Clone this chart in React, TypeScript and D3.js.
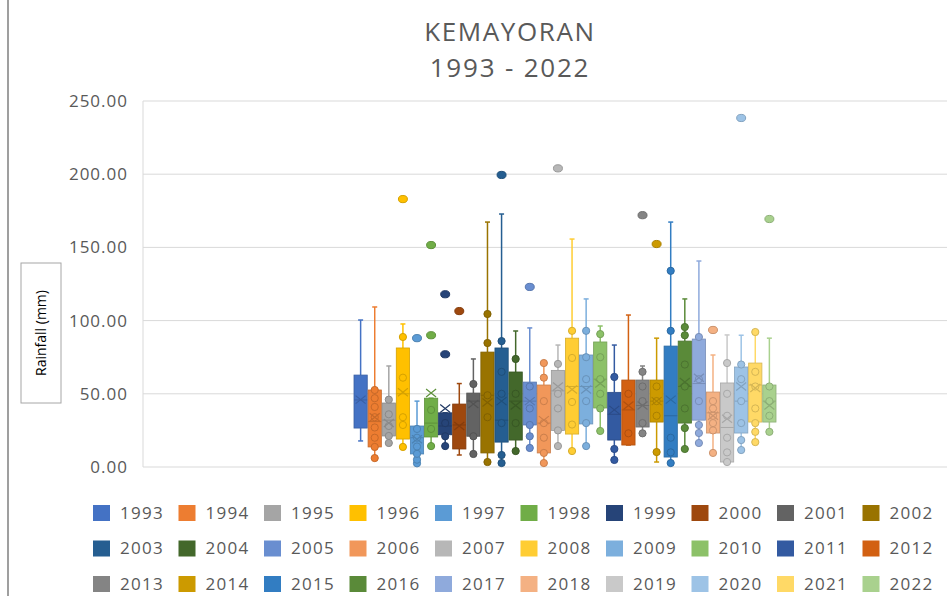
import React from 'react';
import { scaleLinear, scaleBand, color as d3color } from 'd3';

const years = ['1993', '1994', '1995', '1996', '1997', '1998', '1999', '2000', '2001', '2002',
    '2003', '2004', '2005', '2006', '2007', '2008', '2009', '2010', '2011', '2012',
    '2013', '2014', '2015', '2016', '2017', '2018', '2019', '2020', '2021', '2022'];

const colors = ['#4472C4', '#ED7D31', '#A5A5A5', '#FFC000', '#5B9BD5', '#70AD47',
    '#264478', '#9E480E', '#636363', '#997300', '#255E91', '#43682B',
    '#698ED0', '#F1975A', '#B7B7B7', '#FFCD33', '#7CAFDD', '#8CC168',
    '#335AA1', '#D26012', '#848484', '#CC9A00', '#327DC2', '#5A8A39',
    '#8FAADC', '#F4B183', '#C9C9C9', '#9DC3E6', '#FFD966', '#A9D18E'];

const whiskerLo = [17.8, 6.1, 16.4, 13.7, 2.5, 14.3, 14.3, 8.2, 8.9, 3.4, 2.7, 10.5, 13, 2.7, 14.3,
    10.9, 14.3, 24.6, 4.8, 15, 23, 3.4, 2.7, 12.3, 16.4, 9.6, 3.4, 11.6, 17, 24];
const q1 = [26.6, 13.7, 21.2, 19.1, 8.9, 20.5, 22, 12.3, 21, 9.6, 17, 18.4, 28.7, 9.6, 25,
    22.5, 29.4, 40.3, 18.4, 15, 27.3, 30.7, 6.8, 30, 32, 23.2, 3.4, 23.2, 30.7, 30.7];
const median = [45.8, 31, 32, 50, 20, 30, 28, 28.7, 45, 49, 32, 45, 45, 30, 52,
    55, 55, 60, 36, 39, 42, 45, 35, 55, 57, 37, 27, 45, 56, 45];
const q3 = [62.8, 52.6, 43.7, 81.3, 28, 47, 37, 43, 50.5, 78.5, 81.3, 64.9, 58, 56, 66,
    88, 76.5, 85.4, 51, 59.4, 59.4, 59.4, 82.6, 86, 87.4, 51.2, 57.4, 68.3, 71, 56];
const whiskerHi = [100.4, 109.3, 69, 97.7, 45, 47, 37, 57, 73.8, 167.3, 172.8, 92.9, 95, 71, 83.3,
    155.7, 114.8, 96.3, 83.3, 103.8, 69, 88, 167.3, 114.8, 140.7, 76.5, 90.2, 90, 92.2, 88];
const means = [46, 34, 30, 51, 19, 50.5, 40, 28, 43, 44, 45, 42, 45, 32, 55,
    53, 53, 57, 39, 42, 42, 45, 46, 58, 61, 35, 33, 55, 54, 42];

const innerPoints = [
    [], [6.1, 13.7, 20, 27, 34, 41, 47, 52.6], [16.4, 21.2, 28, 36, 46], [13.7, 28.7, 34, 61, 88.8],
    [2.5, 5, 9, 14, 20, 26], [14.3, 26, 39], [14.3, 21, 30], [], [8.9, 21, 56.7],
    [3.4, 34, 49, 84.7, 104.5], [2.7, 8.2, 30, 50, 65, 86], [10.9, 30, 50, 73.8],
    [13, 21, 28.7, 40, 55], [2.7, 9.6, 20, 30, 45, 61, 71], [14.3, 25, 40, 50, 70.4],
    [10.9, 29, 44.4, 74.5, 93], [14.3, 30, 45, 60, 75, 93], [24.6, 40, 50, 60, 75, 90.8],
    [4.8, 12.3, 61.5], [23, 50], [23, 30, 45, 55, 65], [10.2, 35, 45, 55],
    [2.7, 10, 20, 93, 134], [12.3, 26.6, 40, 55, 70, 90, 95.6], [16.4, 23.2, 28.7, 45, 60, 88.8],
    [9.6, 25, 30, 35, 40, 45], [3.4, 10, 20, 35, 50, 71], [11.6, 18.4, 30, 45, 60, 70],
    [17, 24, 30, 40, 55, 65, 92.2], [24, 35, 45, 55]
];

const outliers = [
    [], [], [], [183], [88], [151.6, 90], [118, 77], [106.5], [], [],
    [199.5], [], [123], [], [204], [], [], [], [], [],
    [172], [152.3], [], [], [], [93.6], [], [238.4], [], [169.4]
];

const yTicks = [0, 50, 100, 150, 200, 250];

const W = 947;
const H = 596;
const plot = { left: 143, right: 987, top: 101, bottom: 467 };
const font = '"Open Sans", "Liberation Sans", sans-serif';
const textGray = '#595959';

const App: React.FC = () => {
    const y = scaleLinear().domain([0, 250]).range([plot.bottom, plot.top]);

    // single category, gap width 100%
    const cat = scaleBand<string>().domain(['KEMAYORAN']).range([plot.left, plot.right]).paddingOuter(0.5);
    const x0 = cat('KEMAYORAN') as number;
    const series = scaleBand<string>().domain(years).range([x0, x0 + cat.bandwidth()]).paddingInner(0.06);
    const bw = series.bandwidth();

    const dark = (c: string, k = 0.5) => (d3color(c) as any).darker(k).formatHex();

    return (
        <div style={{ position: 'absolute', left: 0, top: 0 }}>
            <svg width={W} height={H} style={{ display: 'block', background: '#fff' }}>
                <line x1={8} x2={8} y1={0} y2={H} stroke="#7f7f7f" strokeWidth={1.5} />

                <text x={510} y={41} textAnchor="middle" fontFamily={font} fontSize={26} letterSpacing={1.6}
                    fill={textGray}>KEMAYORAN</text>
                <text x={510} y={77} textAnchor="middle" fontFamily={font} fontSize={26} letterSpacing={1.8}
                    fill={textGray}>1993 - 2022</text>

                {/* gridlines + axis labels */}
                {yTicks.map(t => (
                    <g key={t}>
                        <line x1={plot.left} x2={plot.right} y1={y(t)} y2={y(t)} stroke="#d9d9d9" strokeWidth={1} />
                        <text x={128} y={y(t)} dy="0.35em" textAnchor="end" fontFamily={font} fontSize={17}
                            letterSpacing={1} fill={textGray}>{t.toFixed(2)}</text>
                    </g>
                ))}
                <line x1={plot.left} x2={plot.left} y1={plot.top} y2={plot.bottom} stroke="#d9d9d9" />

                {/* y axis title */}
                <rect x={21} y={263} width={40} height={140} fill="#fff" stroke="#a6a6a6" />
                <text transform="translate(46,333) rotate(-90)" textAnchor="middle" fontFamily={font} fontSize={14}
                    fill="#000">Rainfall (mm)</text>

                {/* boxes */}
                {years.map((yr, i) => {
                    const c = colors[i];
                    const xs = series(yr) as number;
                    const cx = xs + bw / 2;
                    const dc = dark(c);
                    return (
                        <g key={yr}>
                            <line x1={cx} x2={cx} y1={y(whiskerHi[i])} y2={y(q3[i])} stroke={c} strokeWidth={1.5} />
                            <line x1={cx} x2={cx} y1={y(q1[i])} y2={y(whiskerLo[i])} stroke={c} strokeWidth={1.5} />
                            <line x1={cx - 2.5} x2={cx + 2.5} y1={y(whiskerHi[i])} y2={y(whiskerHi[i])} stroke={c} strokeWidth={1.5} />
                            <line x1={cx - 2.5} x2={cx + 2.5} y1={y(whiskerLo[i])} y2={y(whiskerLo[i])} stroke={c} strokeWidth={1.5} />
                            <rect x={xs} y={y(q3[i])} width={bw} height={y(q1[i]) - y(q3[i])}
                                fill={c} stroke={dc} strokeWidth={0.8} />
                            <line x1={xs} x2={xs + bw} y1={y(median[i])} y2={y(median[i])} stroke={dc} strokeWidth={1} />
                            {innerPoints[i].map((v, j) => (
                                <circle key={j} cx={cx} cy={y(v)} r={3.6} fill={c} stroke={dc} strokeWidth={1} />
                            ))}
                            {outliers[i].map((v, j) => (
                                <ellipse key={'o' + j} cx={cx} cy={y(v)} rx={4.5} ry={3.6} fill={c} stroke={dc} strokeWidth={1} />
                            ))}
                            <path d={`M${cx - 5},${y(means[i]) - 4}L${cx + 5},${y(means[i]) + 4}M${cx - 5},${y(means[i]) + 4}L${cx + 5},${y(means[i]) - 4}`}
                                stroke={dc} strokeWidth={1.2} fill="none" />
                        </g>
                    );
                })}

                {/* legend */}
                {years.map((yr, i) => {
                    const col = i % 10;
                    const row = Math.floor(i / 10);
                    const lx = 93 + col * 85.5;
                    const ly = 513 + row * 35.5;
                    return (
                        <g key={'l' + yr}>
                            <rect x={lx} y={ly - 8} width={17} height={16} fill={colors[i]} />
                            <text x={lx + 27} y={ly} dy="0.35em" fontFamily={font} fontSize={17} letterSpacing={1.3}
                                fill={textGray}>{yr}</text>
                        </g>
                    );
                })}
            </svg>
        </div>
    );
};

export default App;
